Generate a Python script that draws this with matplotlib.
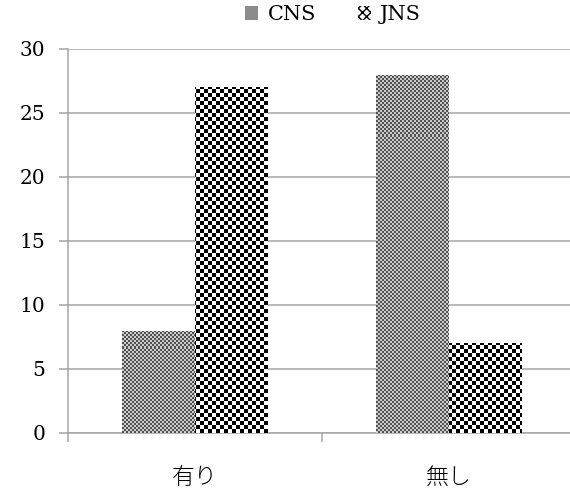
import numpy as np
import matplotlib
matplotlib.use('Agg')
import matplotlib.pyplot as plt
from matplotlib.patches import Patch

categories = ['有り', '無し']
series = ['CNS', 'JNS']
cns = [8, 28]
jns = [27, 7]
yticks = [0, 5, 10, 15, 20, 25, 30]

GRID = '#a6a6a6'
W_PX, H_PX = 508, 384


def checker(cell, dark, light):
    yy, xx = np.mgrid[0:H_PX, 0:W_PX]
    mask = ((xx // cell + yy // cell) % 2).astype(bool)
    img = np.empty((H_PX, W_PX, 3))
    img[mask] = light
    img[~mask] = dark
    return img


def fill_bars(ax, bars, img):
    for b in bars:
        im = ax.imshow(img, extent=(0, 1, 0, 1), transform=ax.transAxes,
                       interpolation='nearest', aspect='auto', zorder=3)
        im.set_clip_path(b)


def main():
    fig = plt.figure(figsize=(5.7, 4.92), dpi=100)
    ax = fig.add_axes([68 / 570, 59 / 492, W_PX / 570, H_PX / 492])

    x = np.arange(len(categories))
    w = 0.286
    b1 = ax.bar(x - w / 2, cns, w, color='none', edgecolor='none', zorder=3)
    b2 = ax.bar(x + w / 2, jns, w, color='none', edgecolor='none', zorder=3)
    fill_bars(ax, b1, checker(2, (0.32, 0.32, 0.32), (0.80, 0.80, 0.80)))
    fill_bars(ax, b2, checker(4, (0.0, 0.0, 0.0), (1.0, 1.0, 1.0)))

    ax.set_xlim(-0.5, 1.5)
    ax.set_ylim(0, 30)
    ax.set_yticks(yticks)
    ax.set_yticklabels([str(t) for t in yticks], family='DejaVu Serif',
                       fontsize=14.5)
    ax.yaxis.grid(True, color=GRID, linewidth=1.1)
    ax.set_axisbelow(True)

    # category separators as major ticks, names as minor ticks
    ax.set_xticks([-0.5, 0.5, 1.5])
    ax.set_xticklabels([])
    ax.set_xticks(x, minor=True)
    ax.set_xticklabels(categories, minor=True, family='Noto Sans CJK JP',
                       fontsize=16.5, fontweight='light')
    ax.tick_params(axis='x', which='minor', length=0, pad=23)
    ax.tick_params(axis='x', which='major', length=6.5, width=1.1, color=GRID)
    ax.tick_params(axis='y', length=6.5, width=1.1, color=GRID, pad=10)

    for s in ['top', 'right']:
        ax.spines[s].set_visible(False)
    for s in ['left', 'bottom']:
        ax.spines[s].set_color(GRID)
        ax.spines[s].set_linewidth(1.1)

    handles = [Patch(facecolor='#8c8c8c', edgecolor='none'),
               Patch(facecolor='white', edgecolor='black', linewidth=0,
                     hatch='xxxx')]
    fig.legend(handles, series, loc='center', ncol=2,
               bbox_to_anchor=(333 / 570, 1 - 15 / 492), frameon=False,
               prop={'family': 'DejaVu Serif', 'size': 15},
               handlelength=0.62, handleheight=0.62, handletextpad=0.45,
               columnspacing=2.0, borderpad=0)

    fig.savefig('out.png', dpi=100)


if __name__ == '__main__':
    main()
